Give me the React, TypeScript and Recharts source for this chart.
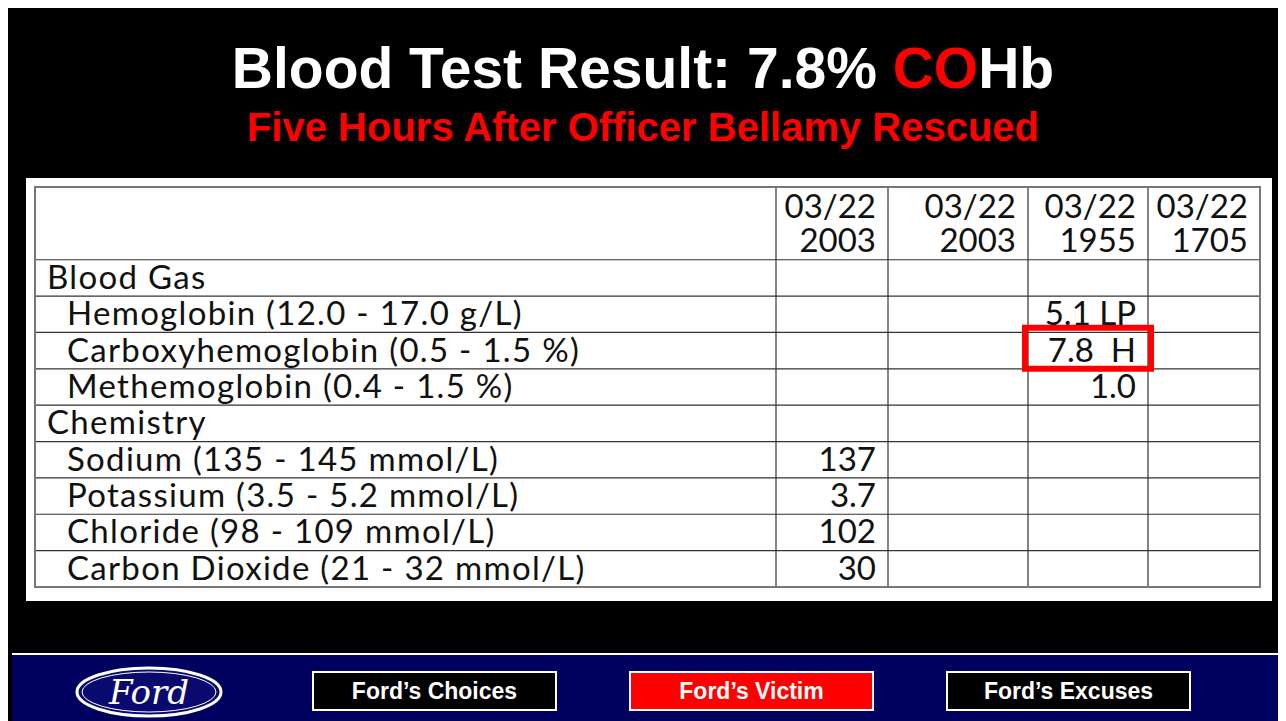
import { ScatterChart, Scatter, XAxis, YAxis, CartesianGrid, ReferenceArea } from 'recharts';

const columnDates = ['03/22', '03/22', '03/22', '03/22'];
const columnTimes = ['2003', '2003', '1955', '1705'];
const rowLabels = [
  'Blood Gas',
  'Hemoglobin (12.0 - 17.0 g/L)',
  'Carboxyhemoglobin (0.5 - 1.5 %)',
  'Methemoglobin (0.4 - 1.5 %)',
  'Chemistry',
  'Sodium (135 - 145 mmol/L)',
  'Potassium (3.5 - 5.2 mmol/L)',
  'Chloride (98 - 109 mmol/L)',
  'Carbon Dioxide (21 - 32 mmol/L)',
];
const rowIsSection = [true, false, false, false, true, false, false, false, false];
const col1Values = ['', '', '', '', '', '137', '3.7', '102', '30'];
const col2Values = ['', '', '', '', '', '', '', '', ''];
const col3Values = ['', '5.1 LP', '7.8  H', '1.0', '', '', '', '', ''];
const col4Values = ['', '', '', '', '', '', '', '', ''];
const footerButtons = ["Ford’s Choices", "Ford’s Victim", "Ford’s Excuses"];
const activeButton = 1;

// table layout (x in table pixels, y in row units; header takes two rows)
const TABLE_W = 1225;
const colEdges = [0, 741, 853, 993, 1113, 1225];
const HEADER_ROWS = 2;
const TOTAL_ROWS = HEADER_ROWS + rowLabels.length;
const highlightCol = 2;
const highlightRow = 2;

const tableFont = "Lato, 'Open Sans', sans-serif";
const allCols = [col1Values, col2Values, col3Values, col4Values];

const headerPoints = columnDates.map((d, i) => ({ x: colEdges[i + 2], y: HEADER_ROWS / 2, top: d, bottom: columnTimes[i] }));
const labelPoints = rowLabels.map((l, i) => ({ x: 0, y: HEADER_ROWS + i + 0.5, label: l, section: rowIsSection[i] }));
const valuePoints = allCols.flatMap((vals, c) =>
  vals.map((v, r) => ({ x: colEdges[c + 2], y: HEADER_ROWS + r + 0.5, label: v })).filter((p) => p.label !== '')
);

const HeaderCell = (props: any) => (
  <text x={props.cx - 12} y={props.cy - 5} textAnchor="end" fontSize={33} fontFamily={tableFont} fill="#111">
    <tspan x={props.cx - 12}>{props.payload.top}</tspan>
    <tspan x={props.cx - 12} dy={34}>{props.payload.bottom}</tspan>
  </text>
);
const LabelCell = (props: any) => (
  <text x={props.cx + (props.payload.section ? 12 : 32)} y={props.cy + 11} fontSize={33} fontFamily={tableFont} fill="#111" style={{ letterSpacing: '1.3px' }}>
    {props.payload.label}
  </text>
);
const ValueCell = (props: any) => (
  <text x={props.cx - 12} y={props.cy + 11} textAnchor="end" fontSize={33} fontFamily={tableFont} fill="#111" style={{ whiteSpace: 'pre' }}>
    {props.payload.label}
  </text>
);

function FordLogo() {
  return (
    <svg width={150} height={54} style={{ position: 'absolute', left: 66, top: 657 }}>
      <ellipse cx={75} cy={27} rx={72} ry={24} fill="#0a0a6e" stroke="#fff" strokeWidth={3} />
      <ellipse cx={75} cy={27} rx={67} ry={20} fill="none" stroke="#fff" strokeWidth={1} />
      <text x={75} y={39} textAnchor="middle" fontSize={34} fontStyle="italic" fontFamily="'DejaVu Serif', serif" fill="#fff">Ford</text>
    </svg>
  );
}

export default function App() {
  return (
    <div style={{ position: 'relative', width: 1278, height: 713, background: '#000', overflow: 'hidden', fontFamily: "'Liberation Sans', Arial, sans-serif" }}>
      <div style={{ position: 'absolute', top: 27, left: 0, width: 1270, textAlign: 'center', color: '#fff', fontWeight: 'bold', fontSize: 57 }}>
        Blood Test Result: 7.8% <span style={{ color: '#ff0000' }}>CO</span>Hb
      </div>
      <div style={{ position: 'absolute', top: 97, left: 0, width: 1270, textAlign: 'center', color: '#ff0000', fontWeight: 'bold', fontSize: 40 }}>
        Five Hours After Officer Bellamy Rescued
      </div>

      <div style={{ position: 'absolute', left: 18, top: 170, width: 1246, height: 423, background: '#fff' }}>
        <ScatterChart width={1246} height={423} margin={{ top: 9, left: 9, right: 12, bottom: 14 }}>
          <XAxis type="number" dataKey="x" domain={[0, TABLE_W]} hide />
          <YAxis type="number" dataKey="y" domain={[0, TOTAL_ROWS]} reversed hide />
          <CartesianGrid
            stroke="#333"
            strokeWidth={1.2}
            horizontalValues={rowLabels.map((_, i) => HEADER_ROWS + i)}
            verticalValues={colEdges.slice(1, -1)}
          />
          <ReferenceArea x1={0} x2={TABLE_W} y1={0} y2={TOTAL_ROWS} fill="none" stroke="#777" strokeWidth={2} />
          <Scatter data={headerPoints} shape={HeaderCell} isAnimationActive={false} />
          <Scatter data={labelPoints} shape={LabelCell} isAnimationActive={false} />
          <Scatter data={valuePoints} shape={ValueCell} isAnimationActive={false} />
          <ReferenceArea
            x1={colEdges[highlightCol + 1] - 3}
            x2={colEdges[highlightCol + 2] + 3}
            y1={HEADER_ROWS + highlightRow - 0.13}
            y2={HEADER_ROWS + highlightRow + 1}
            fill="none"
            stroke="#ff0000"
            strokeWidth={6}
            fillOpacity={0}
          />
        </ScatterChart>
      </div>

      <div style={{ position: 'absolute', left: 4, top: 645, width: 1274, height: 68, background: '#00005e', borderTop: '2px solid #fff' }} />
      <FordLogo />
      {footerButtons.map((b, i) => (
        <div
          key={b}
          style={{
            position: 'absolute',
            left: 304 + i * 317,
            top: 663,
            width: 241,
            height: 36,
            background: i === activeButton ? '#ff0000' : '#000',
            border: '2px solid #fff',
            color: '#fff',
            fontWeight: 'bold',
            fontSize: 23,
            fontFamily: "'Liberation Sans Narrow', 'Arial Narrow', 'Liberation Sans', sans-serif",
            textAlign: 'center',
            lineHeight: '36px',
          }}
        >
          {b}
        </div>
      ))}
    </div>
  );
}
